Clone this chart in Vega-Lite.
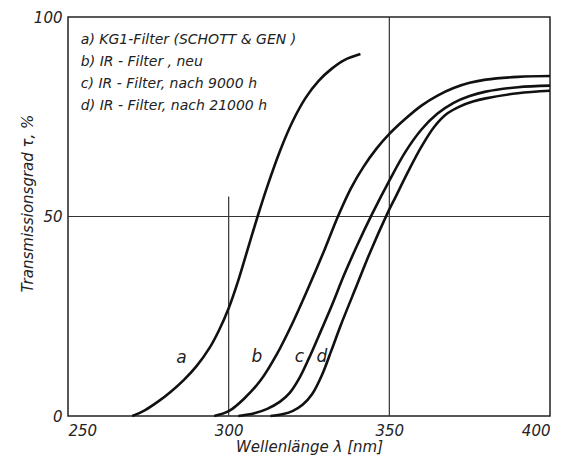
{
  "$schema": "https://vega.github.io/schema/vega-lite/v6.json",
  "autosize": "none",
  "padding": {"left": 68, "top": 17, "right": 20, "bottom": 45},
  "width": 482,
  "height": 399,
  "background": "white",
  "config": {
    "view": {"stroke": "#222", "strokeWidth": 1.5},
    "font": "DejaVu Sans",
    "axis": {"labelFont": "DejaVu Sans", "titleFont": "DejaVu Sans", "labelFontStyle": "italic", "titleFontStyle": "italic", "labelColor": "#222", "titleColor": "#222", "titleFontWeight": "normal", "labelFontSize": 15, "titleFontSize": 15, "grid": false, "ticks": false, "domain": false}
  },
  "datasets": {
    "curves": [
      {"curve": "a", "nm": 270, "t": 0},
      {"curve": "a", "nm": 274, "t": 1.5},
      {"curve": "a", "nm": 278, "t": 3.6},
      {"curve": "a", "nm": 282, "t": 6.1},
      {"curve": "a", "nm": 286, "t": 9},
      {"curve": "a", "nm": 290, "t": 12.5},
      {"curve": "a", "nm": 294, "t": 17},
      {"curve": "a", "nm": 297, "t": 21.5},
      {"curve": "a", "nm": 300, "t": 27},
      {"curve": "a", "nm": 303, "t": 34},
      {"curve": "a", "nm": 306, "t": 42},
      {"curve": "a", "nm": 309, "t": 50},
      {"curve": "a", "nm": 312, "t": 57.5},
      {"curve": "a", "nm": 316, "t": 66.5},
      {"curve": "a", "nm": 320, "t": 74},
      {"curve": "a", "nm": 324, "t": 79.8},
      {"curve": "a", "nm": 328, "t": 84},
      {"curve": "a", "nm": 332, "t": 87},
      {"curve": "a", "nm": 336, "t": 89.2},
      {"curve": "a", "nm": 341, "t": 90.7},
      {"curve": "b", "nm": 295.5, "t": 0},
      {"curve": "b", "nm": 300, "t": 1.2},
      {"curve": "b", "nm": 305, "t": 4.5},
      {"curve": "b", "nm": 310, "t": 9},
      {"curve": "b", "nm": 315, "t": 15.5},
      {"curve": "b", "nm": 320, "t": 23.5},
      {"curve": "b", "nm": 325, "t": 32.5},
      {"curve": "b", "nm": 330, "t": 42},
      {"curve": "b", "nm": 334, "t": 50},
      {"curve": "b", "nm": 338, "t": 57},
      {"curve": "b", "nm": 342, "t": 62.5},
      {"curve": "b", "nm": 346, "t": 67},
      {"curve": "b", "nm": 350, "t": 70.7},
      {"curve": "b", "nm": 355, "t": 74.5},
      {"curve": "b", "nm": 360, "t": 77.8},
      {"curve": "b", "nm": 365, "t": 80.3},
      {"curve": "b", "nm": 370, "t": 82.2},
      {"curve": "b", "nm": 375, "t": 83.5},
      {"curve": "b", "nm": 380, "t": 84.3},
      {"curve": "b", "nm": 390, "t": 85},
      {"curve": "b", "nm": 400, "t": 85.2},
      {"curve": "c", "nm": 303, "t": 0},
      {"curve": "c", "nm": 308, "t": 0.7},
      {"curve": "c", "nm": 312, "t": 1.8},
      {"curve": "c", "nm": 316, "t": 3.6},
      {"curve": "c", "nm": 319, "t": 5.8},
      {"curve": "c", "nm": 322, "t": 9.5},
      {"curve": "c", "nm": 325, "t": 14.5},
      {"curve": "c", "nm": 328, "t": 20},
      {"curve": "c", "nm": 332, "t": 27.5},
      {"curve": "c", "nm": 336, "t": 35.5},
      {"curve": "c", "nm": 340, "t": 42.8},
      {"curve": "c", "nm": 344.5, "t": 50.4},
      {"curve": "c", "nm": 350, "t": 59},
      {"curve": "c", "nm": 355, "t": 66.2},
      {"curve": "c", "nm": 360, "t": 71.8},
      {"curve": "c", "nm": 365, "t": 75.8},
      {"curve": "c", "nm": 370, "t": 78.5},
      {"curve": "c", "nm": 375, "t": 80.2},
      {"curve": "c", "nm": 380, "t": 81.3},
      {"curve": "c", "nm": 390, "t": 82.4},
      {"curve": "c", "nm": 400, "t": 82.8},
      {"curve": "d", "nm": 313, "t": 0},
      {"curve": "d", "nm": 317, "t": 0.5},
      {"curve": "d", "nm": 320, "t": 1.3},
      {"curve": "d", "nm": 323, "t": 2.8},
      {"curve": "d", "nm": 326, "t": 5.5},
      {"curve": "d", "nm": 329, "t": 10.2},
      {"curve": "d", "nm": 332, "t": 16.5},
      {"curve": "d", "nm": 335, "t": 23},
      {"curve": "d", "nm": 340, "t": 33},
      {"curve": "d", "nm": 344, "t": 41},
      {"curve": "d", "nm": 349.3, "t": 50.6},
      {"curve": "d", "nm": 352, "t": 55},
      {"curve": "d", "nm": 356, "t": 61.5},
      {"curve": "d", "nm": 360, "t": 67.5},
      {"curve": "d", "nm": 364, "t": 72.5},
      {"curve": "d", "nm": 368, "t": 75.8},
      {"curve": "d", "nm": 372, "t": 77.6},
      {"curve": "d", "nm": 376, "t": 78.8},
      {"curve": "d", "nm": 380, "t": 79.6},
      {"curve": "d", "nm": 390, "t": 80.9},
      {"curve": "d", "nm": 400, "t": 81.5}
    ],
    "grid": [
      {"x": 300, "x2": 300, "y": 0, "y2": 55},
      {"x": 350, "x2": 350, "y": 0, "y2": 100},
      {"x": 250, "x2": 400, "y": 50, "y2": 50}
    ],
    "curveLabels": [
      {"label": "a", "nm": 285.3, "t": 14.5},
      {"label": "b", "nm": 308.8, "t": 14.9},
      {"label": "c", "nm": 322, "t": 14.9},
      {"label": "d", "nm": 329, "t": 14.9}
    ],
    "legend": [
      {"text": "a) KG1-Filter (SCHOTT & GEN )", "nm": 254, "t": 94.3},
      {"text": "b) IR - Filter , neu", "nm": 254, "t": 88.6},
      {"text": "c) IR - Filter, nach 9000 h", "nm": 254, "t": 83.2},
      {"text": "d) IR - Filter, nach  21000 h", "nm": 254, "t": 77.6}
    ]
  },
  "layer": [
    {
      "data": {"name": "grid"},
      "mark": {"type": "rule", "color": "#333", "strokeWidth": 1.2},
      "encoding": {
        "x": {"field": "x", "type": "quantitative", "scale": {"domain": [250, 400], "nice": false, "zero": false},
              "axis": {"values": [250, 300, 350, 400], "title": "Wellenlänge λ [nm]", "labelPadding": 7, "titleY": 30, "titleBaseline": "middle"}},
        "x2": {"field": "x2"},
        "y": {"field": "y", "type": "quantitative", "scale": {"domain": [0, 100], "nice": false, "zero": false},
              "axis": {"values": [0, 50, 100], "title": "Transmissionsgrad τ, %", "labelPadding": 6, "titleX": -41, "titleY": 186, "titleBaseline": "middle", "titleAlign": "center", "titleAngle": -90}},
        "y2": {"field": "y2"}
      }
    },
    {
      "data": {"name": "curves"},
      "mark": {"type": "line", "interpolate": "catmull-rom", "color": "#111", "strokeWidth": 2.6},
      "encoding": {
        "x": {"field": "nm", "type": "quantitative"},
        "y": {"field": "t", "type": "quantitative"},
        "detail": {"field": "curve"},
        "order": {"field": "nm", "type": "quantitative"}
      }
    },
    {
      "data": {"name": "curveLabels"},
      "mark": {"type": "text", "font": "DejaVu Sans", "fontStyle": "italic", "fontSize": 17, "color": "#222", "align": "center", "baseline": "middle"},
      "encoding": {
        "x": {"field": "nm", "type": "quantitative"},
        "y": {"field": "t", "type": "quantitative"},
        "text": {"field": "label"}
      }
    },
    {
      "data": {"name": "legend"},
      "mark": {"type": "text", "font": "DejaVu Sans", "fontStyle": "italic", "fontSize": 14, "color": "#222", "align": "left", "baseline": "middle"},
      "encoding": {
        "x": {"field": "nm", "type": "quantitative"},
        "y": {"field": "t", "type": "quantitative"},
        "text": {"field": "text"}
      }
    }
  ]
}
